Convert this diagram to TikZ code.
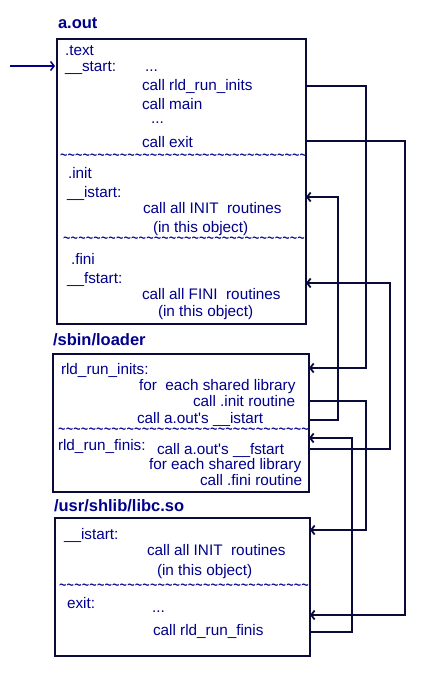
\documentclass[tikz,border=0pt]{standalone}
\usepackage{fontspec}
\setmainfont{Liberation Sans}
\usetikzlibrary{arrows.meta}
\definecolor{MyBlue}{HTML}{00008B}
\definecolor{MyInk}{HTML}{0B0B3B}

\newcommand{\tildes}[1]{\hbox to #1pt{\xleaders\hbox{\scalebox{1}[1.5]{\textasciitilde}}\hfill}}

\begin{document}
\begin{tikzpicture}[x=1pt, y=-1pt,
		every node/.style={inner sep=0pt, outer sep=0pt, text=MyBlue, font=\fontsize{15.3}{18}\selectfont},
		txt/.style={anchor=base west},
		title/.style={anchor=base west, font=\fontsize{16.5}{19}\selectfont\bfseries},
		sep/.style={anchor=base west, font=\fontsize{12.7}{14}\selectfont},
		box/.style={draw=MyInk, line width=1.8pt, anchor=north west},
		link/.style={draw=MyInk, line width=1.8pt, -{Straight Barb[length=3.5pt, width=9pt]}}]
		\useasboundingbox (0,0) rectangle (425,700);
		
		% a.out
		\node[title] (aoutlbl) at (58,29) {a.out};
		\node[box, minimum width=249, minimum height=285] (aout) at (57,39) {};
		
		\node[txt] (sectext) at (65,56) {.text};
		\node[txt] (start) at (65,72) {\_\_start:};
		\node[txt] (dotsa) at (145,72) {...};
		\node[txt] (callinits) at (142,91) {call rld\_run\_inits};
		\node[txt] (callmain) at (142,110) {call main};
		\node[txt] (dotsb) at (151,124) {...};
		\node[txt] (callexit) at (142,148) {call exit};
		\node[sep] (sepa) at (60,161.5) {\tildes{247}};
		\node[txt] (secinit) at (68,179) {.init};
		\node[txt] (istart) at (67,198) {\_\_istart:};
		\node[txt] (initall) at (143,214) {call all INIT\ \ routines};
		\node[txt] (initobj) at (153,233) {(in this object)};
		\node[sep] (sepb) at (63,244.5) {\tildes{242}};
		\node[txt] (secfini) at (71,265) {.fini};
		\node[txt] (fstart) at (67,283) {\_\_fstart:};
		\node[txt] (finiall) at (142,299) {call all FINI\ \ routines};
		\node[txt] (finiobj) at (158,316) {(in this object)};
		
		% /sbin/loader
		\node[title] (loaderlbl) at (53,345) {/sbin/loader};
		\node[box, minimum width=256, minimum height=138] (loader) at (53,354) {};
		
		\node[txt] (runinits) at (61,374) {rld\_run\_inits:};
		\node[txt] (eachlib) at (139,390) {for\ \ each shared library};
		\node[txt] (callinit) at (193,406) {call .init routine};
		\node[txt] (callistart) at (137,423) {call a.out\textquotesingle s \_\_istart};
		\node[sep] (sepc) at (58,435.5) {\tildes{251}};
		\node[txt] (runfinis) at (58,450) {rld\_run\_finis:};
		\node[txt] (callfstart) at (157,454) {call a.out\textquotesingle s \_\_fstart};
		\node[txt] (eachlibb) at (149,469) {for each shared library};
		\node[txt] (callfini) at (200,485) {call .fini routine};
		
		% /usr/shlib/libc.so
		\node[title] (libclbl) at (54,511) {/usr/shlib/libc.so};
		\node[box, minimum width=255, minimum height=138] (libc) at (55,518) {};
		
		\node[txt] (libistart) at (64,539) {\_\_istart:};
		\node[txt] (libinitall) at (147,555) {call all INIT\ \ routines};
		\node[txt] (libinitobj) at (157,575) {(in this object)};
		\node[sep] (sepd) at (59,591.5) {\tildes{250}};
		\node[txt] (exit) at (67,608) {exit:};
		\node[txt] (dotsc) at (152,612) {...};
		\node[txt] (callfinis) at (153,635) {call rld\_run\_finis};
		
		% entry point
		\coordinate (entry) at (10,66);
		\draw[link, draw=MyBlue, line width=1.5pt, shorten >=2pt] (entry) -- (aout.west |- entry);
		
		% calls between the objects
		\draw[link] (aout.east |- 0,86) -| (366,368) -- (loader.east |- 0,368);
		\draw[link] (aout.east |- 0,141) -| (405,615) -- (libc.east |- 0,615);
		\draw[link] (loader.east |- 0,420) -| (338,197) -- (aout.east |- 0,197);
		\draw[link] (loader.east |- 0,401) -| (366,530) -- (libc.east |- 0,530);
		\draw[link] (loader.east |- 0,449) -| (390,283) -- (aout.east |- 0,283);
		\draw[link] (libc.east |- 0,632) -| (352,438) -- (loader.east |- 0,438);
	\end{tikzpicture}
\end{document}
